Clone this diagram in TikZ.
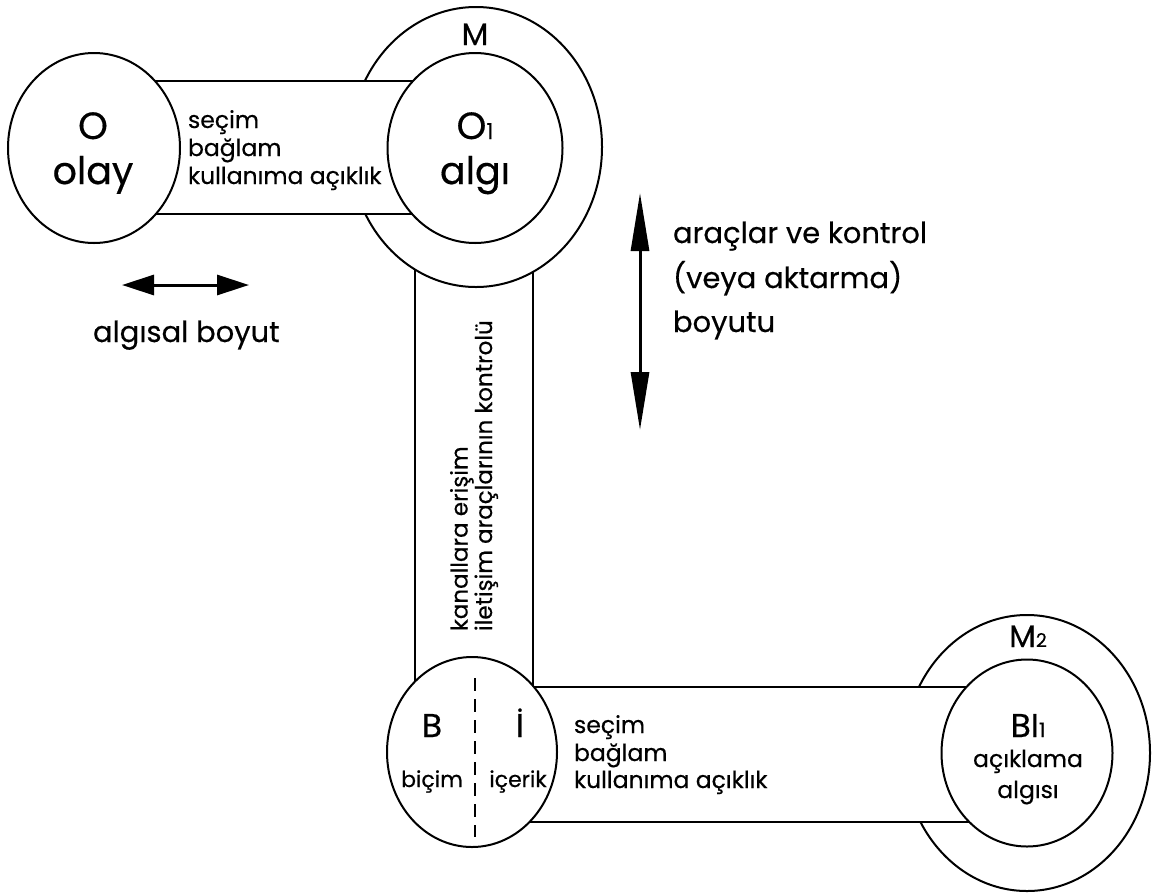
\documentclass[tikz,border=0pt]{standalone}
\usepackage{fontspec}
\setmainfont{Poppins}[FakeBold=0.4]
\usetikzlibrary{shapes.geometric,arrows.meta}
\begin{document}
\begin{tikzpicture}[x=1pt,y=-1pt,line width=2pt,
  ring/.style={draw,ellipse,fill=white,inner sep=0pt},
  lbl/.style={inner sep=0pt,anchor=base},
  lblw/.style={inner sep=0pt,anchor=base west},
  big/.style={font=\fontsize{38}{44}\selectfont},
  mid/.style={font=\fontsize{29}{44}\selectfont},
  sm/.style={font=\fontsize{23.5}{28}\selectfont},
  capfont/.style={font=\fontsize{33}{33}\selectfont},
]
\useasboundingbox (0,0) rectangle (1153,892);
% centres
\coordinate (cO) at (94,148);
\coordinate (cM) at (476,147);
\coordinate (cBI) at (472,752);
\coordinate (cM2) at (1027,753);
% vertical band
\fill[white] (415,147) rectangle (533,752);
\draw (415,147) -- (415,752);
\draw (533,147) -- (533,752);
% outer rings
\node[ring,minimum width=252pt,minimum height=280pt] (M) at (cM) {};
\node[ring,minimum width=246pt,minimum height=276pt] (M2) at (cM2) {};
% horizontal bands
\fill[white] (94,81) rectangle (475,214);
\draw (94,81) -- (475,81);
\draw (94,214) -- (475,214);
\fill[white] (472,687) rectangle (1027,822);
\draw (472,687) -- (1027,687);
\draw (472,822) -- (1027,822);
% inner circles
\node[ring,minimum width=172pt,minimum height=190pt] (O) at (cO) {};
\node[ring,minimum width=175pt,minimum height=190pt] (O1) at (475,148) {};
\node[ring,minimum width=170pt,minimum height=190pt] (BI) at (cBI) {};
\node[ring,minimum width=171pt,minimum height=187pt] (BI1) at (cM2) {};
\draw[line width=1.5pt,dash pattern=on 13pt off 8pt] (475,678) -- (475,837);
% texts in circles
\node[lbl,big] (tO) at (93,139) {O};
\node[lbl,big] (tolay) at (93,184) {olay};
\node[lbl,big] (tO1) at (475,139) {O{\fontsize{22}{22}\selectfont 1}};
\node[lbl,big] (talgi) at (475,184) {algı};
\node[lbl,font=\fontsize{31}{31}\selectfont] (tM) at (475,45) {M};
\node[lbl,font=\fontsize{31}{31}\selectfont] (tM2) at (1028,647) {M{\fontsize{19}{19}\selectfont 2}};
\node[lbl,capfont] (tBI1) at (1028,737) {BI{\fontsize{20}{20}\selectfont 1}};
\node[lbl,sm] (taci) at (1028,767) {açıklama};
\node[lbl,sm] (talgisi) at (1028,798) {algısı};
\node[lbl,capfont] (tB) at (432,737) {B};
\node[lbl,capfont] (tI) at (520,737) {İ};
\node[lbl,font=\fontsize{22}{22}\selectfont] (tbicim) at (432,787) {biçim};
\node[lbl,font=\fontsize{22}{22}\selectfont] (ticerik) at (518,787) {içerik};
% band texts
\node[lblw,sm] (s1) at (187,128) {seçim};
\node[lblw,sm] (s2) at (187,156) {bağlam};
\node[lblw,sm] (s3) at (187,184) {kullanıma açıklık};
\node[lblw,sm] (b1) at (573,733) {seçim};
\node[lblw,sm] (b2) at (573,761) {bağlam};
\node[lblw,sm] (b3) at (573,788) {kullanıma açıklık};
\node[inner sep=0pt,rotate=90,anchor=west,align=left,font=\fontsize{23}{21}\selectfont] (vt) at (474,632) {kanallara erişim\\iletişim araçlarının kontrolü};
% dimension labels
\node[lblw,mid] (r1) at (672,243) {araçlar ve kontrol};
\node[lblw,mid] (r2) at (672,288) {(veya aktarma)};
\node[lblw,mid] (r3) at (672,332) {boyutu};
\node[lblw,mid] (ab) at (92,342) {algısal boyut};
% arrows
\coordinate (hL) at (122,285);
\coordinate (hR) at (249,285);
\coordinate (vT) at (640,193);
\coordinate (vB) at (640,430);
\draw[line width=3pt,{Triangle[length=32pt,width=20pt]}-{Triangle[length=32pt,width=20pt]}] (hL) -- (hR);
\draw[line width=3pt,{Triangle[length=58pt,width=18pt]}-{Triangle[length=58pt,width=18pt]}] (vT) -- (vB);
\end{tikzpicture}
\end{document}
